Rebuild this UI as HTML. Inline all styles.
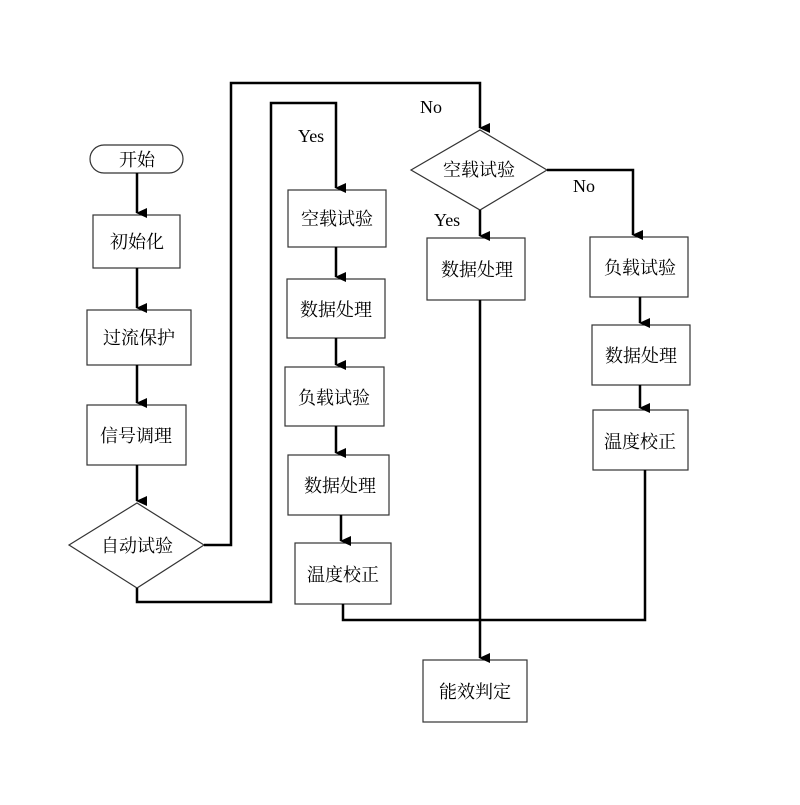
<!DOCTYPE html>
<html><head><meta charset="utf-8"><style>
html,body{margin:0;padding:0;background:#fff;}
svg text{font-family:"Liberation Serif","Noto Serif CJK SC",serif;font-size:18px;fill:#000;}
</style></head><body>
<svg width="800" height="800" viewBox="0 0 800 800" xmlns="http://www.w3.org/2000/svg">
<defs><marker id="a" markerWidth="10" markerHeight="12" refX="5" refY="10" orient="auto" markerUnits="userSpaceOnUse"><path d="M0,0 L10,0 L5,11 Z" fill="#000"/></marker></defs>
<g fill="#fff" stroke="#333" stroke-width="1.2">
<rect x="90" y="145" width="93" height="28" rx="14"/>
<rect x="93" y="215" width="87" height="53"/>
<rect x="87" y="310" width="104" height="55"/>
<rect x="87" y="405" width="99" height="60"/>
<polygon points="69,545 137,503 204,545 137,588"/>
<rect x="288" y="190" width="98" height="57"/>
<rect x="287" y="279" width="98" height="59"/>
<rect x="285" y="367" width="99" height="59"/>
<rect x="288" y="455" width="101" height="60"/>
<rect x="295" y="543" width="96" height="61"/>
<polygon points="411,170 480,130 547,170 480,210"/>
<rect x="427" y="238" width="98" height="62"/>
<rect x="590" y="237" width="98" height="60"/>
<rect x="592" y="325" width="98" height="60"/>
<rect x="593" y="410" width="95" height="60"/>
<rect x="423" y="660" width="104" height="62"/>
</g>
<g fill="none" stroke="#000" stroke-width="2.5">
<path d="M137,173 V213" marker-end="url(#a)"/>
<path d="M137,268 V308" marker-end="url(#a)"/>
<path d="M137,365 V403" marker-end="url(#a)"/>
<path d="M137,465 V501" marker-end="url(#a)"/>
<path d="M204,545 H231 V83 H480 V128" marker-end="url(#a)"/>
<path d="M137,588 V602 H271 V103 H336 V188" marker-end="url(#a)"/>
<path d="M336,247 V277" marker-end="url(#a)"/>
<path d="M336,338 V365" marker-end="url(#a)"/>
<path d="M336,426 V453" marker-end="url(#a)"/>
<path d="M341,515 V541" marker-end="url(#a)"/>
<path d="M343,604 V620 H645 V470"/>
<path d="M480,210 V236" marker-end="url(#a)"/>
<path d="M480,300 V658" marker-end="url(#a)"/>
<path d="M547,170 H633 V235" marker-end="url(#a)"/>
<path d="M640,297 V323" marker-end="url(#a)"/>
<path d="M640,385 V408" marker-end="url(#a)"/>
</g>
<g text-anchor="middle">
<text x="137" y="166">开始</text>
<text x="137" y="248">初始化</text>
<text x="139" y="344">过流保护</text>
<text x="136" y="442">信号调理</text>
<text x="137" y="552">自动试验</text>
<text x="337" y="225">空载试验</text>
<text x="336" y="316">数据处理</text>
<text x="334" y="404">负载试验</text>
<text x="340" y="492">数据处理</text>
<text x="343" y="581">温度校正</text>
<text x="479" y="176">空载试验</text>
<text x="477" y="276">数据处理</text>
<text x="640" y="274">负载试验</text>
<text x="641" y="362">数据处理</text>
<text x="640" y="448">温度校正</text>
<text x="475" y="698">能效判定</text>
</g>
<text x="298" y="142">Yes</text>
<text x="420" y="113">No</text>
<text x="573" y="192">No</text>
<text x="434" y="226">Yes</text>
</svg>
</body></html>
